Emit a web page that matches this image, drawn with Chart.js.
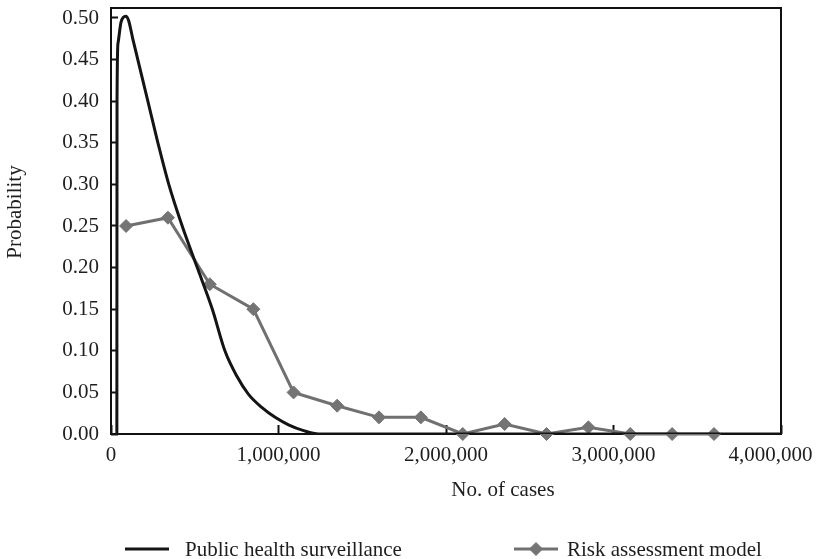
<!DOCTYPE html>
<html>
<head>
<meta charset="utf-8">
<script src="https://cdn.jsdelivr.net/npm/chart.js@4.4.1/dist/chart.umd.min.js"></script>
<style>
  html, body { margin: 0; padding: 0; background: #ffffff; }
  canvas { display: block; }
</style>
</head>
<body>
<canvas id="chart" width="818" height="559"></canvas>
<script>
// Number of cases (x) and probability (y) for each series
const surveillanceCases = [35000, 36000, 42000, 60000, 88000, 105000, 130000, 160000, 220000, 280000, 345000, 425000, 515000, 605000, 680000, 750000, 820000, 900000, 980000, 1060000, 1150000, 1240000, 4000000];
const surveillanceProb  = [0, 0.40, 0.47, 0.495, 0.502, 0.497, 0.475, 0.45, 0.40, 0.35, 0.30, 0.25, 0.20, 0.15, 0.10, 0.07, 0.048, 0.032, 0.02, 0.011, 0.004, 0, 0];

const riskCases = [90000, 340000, 590000, 850000, 1090000, 1350000, 1600000, 1850000, 2100000, 2350000, 2600000, 2850000, 3100000, 3350000, 3600000];
const riskProb  = [0.25, 0.26, 0.18, 0.15, 0.05, 0.034, 0.02, 0.02, 0.0, 0.012, 0.0, 0.008, 0.0, 0.0, 0.0];

const xTickValues = [0, 1000000, 2000000, 3000000, 4000000];
const yTickValues = [0, 0.05, 0.10, 0.15, 0.20, 0.25, 0.30, 0.35, 0.40, 0.45, 0.50];

const seriesNames = ['Public health surveillance', 'Risk assessment model'];
const xTitle = 'No. of cases';
const yTitle = 'Probability';

const FONT = '"Liberation Serif", "Times New Roman", serif';
const TEXT = '#1e1e1e';
const SURV_COLOR = '#141414';
const RISK_COLOR = '#707070';
const MARKER_COLOR = '#747474';

const toPoints = (xs, ys) => xs.map((x, i) => ({ x: x, y: ys[i] }));

// Box around the plotting area
const framePlugin = {
  id: 'frame',
  beforeDatasetsDraw(chart) {
    const { ctx, chartArea: a } = chart;
    ctx.save();
    ctx.strokeStyle = '#111';
    ctx.lineWidth = 2;
    ctx.strokeRect(a.left, a.top, a.right - a.left, a.bottom - a.top);
    ctx.restore();
  }
};

// Axis titles and the legend row underneath the chart
const annotationPlugin = {
  id: 'annotations',
  afterDraw(chart) {
    const { ctx, chartArea: a } = chart;
    const w = a.right - a.left;
    ctx.save();
    ctx.fillStyle = TEXT;
    ctx.font = '21px ' + FONT;
    ctx.textBaseline = 'middle';

    // x title
    ctx.textAlign = 'center';
    ctx.fillText(xTitle, a.left + w * 0.585, a.bottom + 56);

    // y title
    ctx.save();
    ctx.translate(15, (a.top + a.bottom) / 2 - 9);
    ctx.rotate(-Math.PI / 2);
    ctx.fillText(yTitle, 0, 0);
    ctx.restore();

    // legend
    const ly = a.bottom + 115;
    const ds = chart.data.datasets;
    ctx.textAlign = 'left';

    ctx.strokeStyle = ds[0].borderColor;
    ctx.lineWidth = 3;
    ctx.beginPath();
    ctx.moveTo(a.left + 14, ly);
    ctx.lineTo(a.left + 58, ly);
    ctx.stroke();
    ctx.fillText(ds[0].label, a.left + 74, ly + 1);

    ctx.strokeStyle = ds[1].borderColor;
    ctx.beginPath();
    ctx.moveTo(a.left + 403, ly);
    ctx.lineTo(a.left + 447, ly);
    ctx.stroke();
    ctx.fillStyle = ds[1].pointBackgroundColor;
    ctx.strokeStyle = ds[1].pointBorderColor;
    ctx.lineWidth = 1;
    Chart.helpers.drawPoint(ctx, {
      pointStyle: ds[1].pointStyle, radius: ds[1].pointRadius, rotation: 0, borderWidth: 1
    }, a.left + 425, ly);
    ctx.fillStyle = TEXT;
    ctx.fillText(ds[1].label, a.left + 456, ly + 1);
    ctx.restore();
  }
};

new Chart(document.getElementById('chart'), {
  type: 'line',
  data: {
    datasets: [
      {
        label: seriesNames[0],
        data: toPoints(surveillanceCases, surveillanceProb),
        borderColor: SURV_COLOR,
        borderWidth: 3,
        pointRadius: 0,
        cubicInterpolationMode: 'monotone',
        fill: false
      },
      {
        label: seriesNames[1],
        data: toPoints(riskCases, riskProb),
        borderColor: RISK_COLOR,
        borderWidth: 3,
        pointStyle: 'rectRot',
        pointRadius: 6.5,
        pointBackgroundColor: MARKER_COLOR,
        pointBorderColor: MARKER_COLOR,
        pointBorderWidth: 1,
        tension: 0,
        clip: false,
        fill: false
      }
    ]
  },
  options: {
    responsive: false,
    animation: false,
    devicePixelRatio: 1,
    layout: { padding: { left: 0, right: 37, top: 8, bottom: 0 } },
    plugins: {
      legend: { display: false },
      tooltip: { enabled: false }
    },
    scales: {
      x: {
        type: 'linear',
        min: 0,
        max: 4000000,
        border: { display: false },
        grid: { drawOnChartArea: false, drawTicks: true, tickLength: -9, tickColor: '#111', tickWidth: 2 },
        ticks: {
          color: TEXT,
          font: { family: FONT, size: 21 },
          padding: 18,
          maxRotation: 0,
          callback: (v) => v === 4000000 ? v.toLocaleString('en-US') + '\u00a0\u00a0\u00a0\u00a0' : v.toLocaleString('en-US')
        },
        afterBuildTicks: (scale) => { scale.ticks = xTickValues.map(v => ({ value: v })); },
        afterFit: (scale) => { scale.height = 125; scale.paddingLeft = 0; scale.paddingRight = 0; }
      },
      y: {
        type: 'linear',
        min: 0,
        max: 0.512,
        border: { display: false },
        grid: { drawOnChartArea: false, drawTicks: true, tickLength: -7, tickColor: '#111', tickWidth: 2 },
        ticks: {
          color: TEXT,
          font: { family: FONT, size: 21 },
          padding: 19,
          callback: (v) => v.toFixed(2)
        },
        afterBuildTicks: (scale) => { scale.ticks = yTickValues.map(v => ({ value: v })); },
        afterFit: (scale) => { scale.width = 111; scale.paddingTop = 0; scale.paddingBottom = 0; }
      }
    }
  },
  plugins: [framePlugin, annotationPlugin]
});
</script>
</body>
</html>
